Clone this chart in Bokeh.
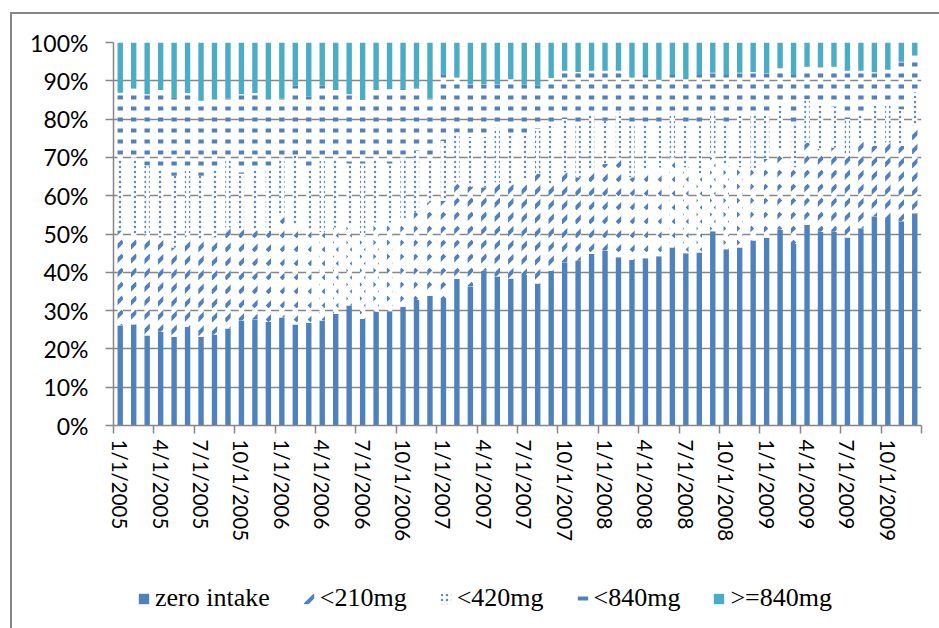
from bokeh.plotting import figure
from bokeh.layouts import column
from bokeh.models import (ColumnDataSource, Range1d, FixedTicker, PrintfTickFormatter,
                          CustomJSTickFormatter, Legend)
from bokeh.embed import file_html
from bokeh.resources import INLINE

# Monthly share of people by daily intake band, Jan 2005 - Dec 2009 (percent of total)
tick_labels = ["1/1/2005", "4/1/2005", "7/1/2005", "10/1/2005",
               "1/1/2006", "4/1/2006", "7/1/2006", "10/1/2006",
               "1/1/2007", "4/1/2007", "7/1/2007", "10/1/2007",
               "1/1/2008", "4/1/2008", "7/1/2008", "10/1/2008",
               "1/1/2009", "4/1/2009", "7/1/2009", "10/1/2009"]

zero_intake = [26.1, 26.4, 23.5, 24.5, 23.2, 25.7, 23.2, 23.7, 25.3, 27.4, 27.7, 27.0,
               28.2, 26.4, 26.8, 27.4, 29.1, 31.3, 27.8, 29.7, 29.8, 31.0, 32.8, 33.9,
               33.3, 38.3, 36.3, 40.4, 38.9, 38.4, 39.3, 37.1, 40.4, 42.6, 43.0, 44.8,
               45.7, 43.9, 43.2, 43.7, 44.2, 46.5, 45.0, 45.2, 50.7, 46.0, 46.5, 48.3,
               49.0, 51.1, 47.4, 52.4, 50.6, 50.6, 49.1, 51.5, 54.6, 54.2, 53.3, 55.4]
lt_210mg = [24.8, 23.2, 26.5, 24.6, 23.3, 23.9, 25.6, 25.4, 26.4, 24.0, 23.2, 23.5,
            26.6, 26.1, 24.2, 23.1, 22.6, 21.4, 21.7, 23.3, 23.2, 23.0, 22.9, 24.4,
            25.4, 25.2, 26.1, 21.8, 24.6, 24.6, 24.6, 28.6, 22.6, 23.5, 21.8, 21.7,
            22.6, 26.1, 21.6, 23.3, 23.2, 23.5, 22.4, 20.5, 19.7, 21.8, 20.9, 18.9,
            20.6, 20.6, 20.0, 21.5, 21.6, 22.0, 21.8, 22.8, 18.4, 19.7, 19.7, 22.9]
lt_420mg = [18.7, 20.4, 17.8, 17.9, 18.7, 16.9, 16.4, 17.7, 17.9, 14.3, 16.4, 16.8,
            15.2, 17.9, 16.3, 18.6, 17.9, 15.7, 18.9, 16.6, 15.4, 16.0, 16.0, 11.4,
            15.6, 13.0, 13.0, 13.2, 14.3, 12.7, 11.8, 11.7, 15.3, 13.9, 13.5, 14.4,
            11.3, 11.7, 13.5, 11.3, 10.9, 10.9, 10.9, 12.6, 11.3, 10.5, 13.5, 14.3,
            11.3, 11.8, 11.7, 11.3, 11.7, 10.6, 9.1, 6.6, 10.5, 9.6, 9.6, 8.7]
lt_840mg = [17.3, 18.1, 18.7, 20.6, 20.5, 20.3, 19.6, 18.4, 15.8, 20.8, 19.5, 17.9,
            15.4, 18.3, 18.6, 19.6, 18.0, 18.1, 16.6, 18.0, 19.4, 17.6, 16.6, 15.7,
            17.4, 14.5, 13.7, 13.7, 11.3, 14.7, 13.3, 11.3, 12.4, 12.6, 14.0, 11.7,
            13.0, 10.9, 12.7, 13.2, 12.0, 10.6, 12.1, 13.2, 10.4, 13.2, 11.2, 10.8,
            11.1, 9.8, 12.4, 8.5, 9.6, 10.5, 12.6, 11.7, 8.7, 9.4, 12.4, 9.7]
ge_840mg = [13.1, 11.9, 13.5, 12.4, 14.3, 13.2, 15.2, 14.8, 14.6, 13.5, 13.2, 14.8,
            14.6, 11.3, 14.1, 11.3, 12.4, 13.5, 15.0, 12.4, 12.2, 12.4, 11.7, 14.6,
            8.3, 9.0, 10.9, 10.9, 10.9, 9.6, 11.0, 11.3, 9.3, 7.4, 7.7, 7.4,
            7.4, 7.4, 9.0, 8.5, 9.7, 8.5, 9.6, 8.5, 7.9, 8.5, 7.9, 7.7,
            8.0, 6.7, 8.5, 6.3, 6.5, 6.3, 7.4, 7.4, 7.8, 7.1, 5.0, 3.3]

series = ["zero", "lt210", "lt420", "lt840", "ge840"]
legend_names = ["zero intake", "<210mg", "<420mg", "<840mg", ">=840mg"]

n = len(zero_intake)
source = ColumnDataSource(dict(
    x=[i + 0.5 for i in range(n)],
    zero=zero_intake, lt210=lt_210mg, lt420=lt_420mg, lt840=lt_840mg, ge840=ge_840mg,
))

BLUE = "#4F81BD"
TEAL = "#4BACC6"
GRID = "#868686"

# fill / hatch style of each intake band
band_style = dict(
    fill_color=[BLUE, "white", "white", "white", TEAL],
    line_color=None,
    hatch_pattern=[" ", ",", ".", "-", " "],
    hatch_color=[BLUE, BLUE, "#5b88c4", BLUE, TEAL],
    hatch_scale=[12, 14, 5, 11, 12],
    hatch_weight=[1, 4, 2.2, 4, 1],
)

p = figure(width=927, height=531, output_backend="svg", toolbar_location=None,
           x_range=Range1d(0, n), y_range=Range1d(0, 100),
           min_border_left=101, min_border_right=18, min_border_top=28,
           min_border_bottom=120)
p.outline_line_color = None
p.background_fill_color = "white"
p.border_fill_color = "white"

p.vbar_stack(series, x="x", width=0.4, source=source, **band_style)

# y axis: 0% .. 100%
p.yaxis.ticker = FixedTicker(ticks=list(range(0, 101, 10)))
p.yaxis.formatter = PrintfTickFormatter(format="%d%%")
p.yaxis.major_tick_out = 8
p.yaxis.major_tick_in = 0
p.yaxis.minor_tick_line_color = None
p.yaxis.major_label_standoff = 17
p.yaxis.axis_line_color = GRID
p.yaxis.axis_line_width = 1.5
p.yaxis.major_tick_line_color = GRID
p.yaxis.major_tick_line_width = 1.5
p.yaxis.major_label_text_font = "Lato"
p.yaxis.major_label_text_font_size = "23px"
p.yaxis.major_label_text_color = "black"

# x axis: a label every third month, tick marks between the quarters
p.xaxis.ticker = FixedTicker(ticks=[0.5 + 3 * k for k in range(len(tick_labels))],
                             minor_ticks=[3 * k for k in range(len(tick_labels) + 1)])
p.xaxis.formatter = CustomJSTickFormatter(
    args=dict(labels=tick_labels),
    code="const i = Math.round((tick - 0.5) / 3); return labels[i] ?? '';")
p.xaxis.major_tick_out = 0
p.xaxis.major_tick_in = 0
p.xaxis.minor_tick_out = 8
p.xaxis.minor_tick_in = 0
p.xaxis.minor_tick_line_color = GRID
p.xaxis.minor_tick_line_width = 1.5
p.xaxis.axis_line_color = GRID
p.xaxis.axis_line_width = 1.5
p.xaxis.major_label_orientation = "vertical"
p.xaxis.major_label_standoff = 6
p.xaxis.major_label_text_font = "Lato"
p.xaxis.major_label_text_font_size = "20.5px"
p.xaxis.major_label_text_color = "black"

p.xgrid.visible = False
p.ygrid.grid_line_color = GRID
p.ygrid.grid_line_width = 1.3
p.ygrid.level = "underlay"

# legend strip under the chart; hidden copies of the bars give the legend
# swatches the band styles
key = figure(width=927, height=83, output_backend="svg", toolbar_location=None,
             x_range=Range1d(-2 * n, -n), y_range=Range1d(0, 100),
             x_axis_location=None, y_axis_location=None,
             min_border_left=0, min_border_right=0, min_border_top=0, min_border_bottom=0)
key.outline_line_color = None
key.grid.visible = False
key_renderers = key.vbar_stack(series, x="x", width=0.4, source=source, **band_style)
for r in key_renderers:
    r.visible = False

legend = Legend(
    items=[(name, [r]) for name, r in zip(legend_names, key_renderers)],
    orientation="horizontal", location=(24, 15),
    border_line_color=None, background_fill_alpha=0,
    inactive_fill_alpha=0,
    padding=0, margin=0, spacing=32, label_standoff=5,
    glyph_width=13, glyph_height=13,
    label_text_font="Liberation Serif", label_text_font_size="26px",
    label_text_color="black",
)
key.add_layout(legend)

chart = column(p, key, spacing=0)
# chart area edge on the left and top
chart.styles = {"margin-left": "10px", "margin-top": "12px",
                "border-left": "2px solid #868686", "border-top": "2px solid #868686"}

open("out.html", "w").write(file_html(chart, INLINE))
